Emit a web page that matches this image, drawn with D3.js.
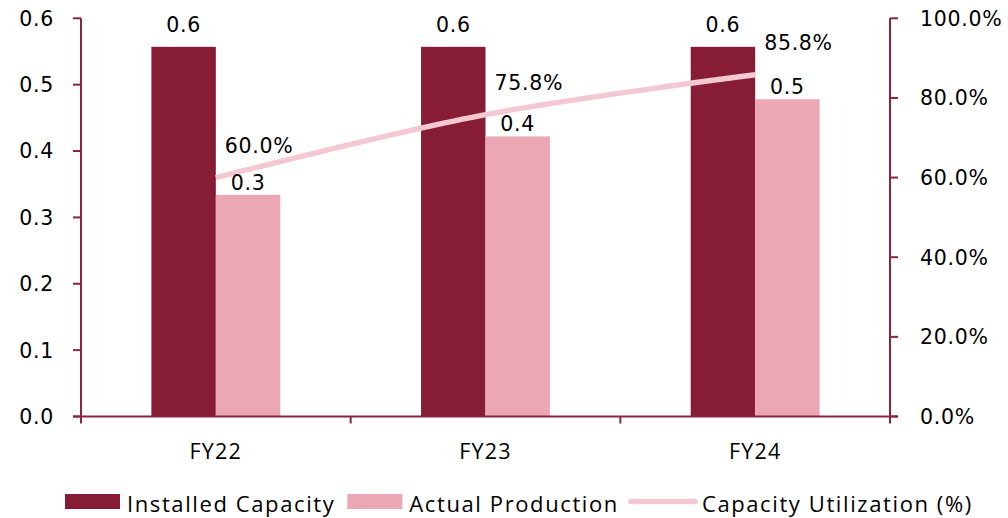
<!DOCTYPE html>
<html>
<head>
<meta charset="utf-8">
<script src="https://cdn.jsdelivr.net/npm/d3@7"></script>
<style>
  html, body { margin: 0; padding: 0; background: #fff; }
  svg { display: block; }
  .num { font-family: "DejaVu Sans", sans-serif; font-size: 20.5px; fill: #000; letter-spacing: 0.7px; }
  .cat { font-family: "Open Sans", sans-serif; font-size: 21.5px; fill: #000; letter-spacing: 1.2px; }
  .leg { font-family: "Open Sans", sans-serif; font-size: 22px; fill: #000; letter-spacing: 1.6px; }
</style>
</head>
<body>
<svg id="chart" width="1008" height="518"></svg>
<script>
// Capacity vs. production by fiscal year
const categories = ["FY22", "FY23", "FY24"];
const installedCapacity = [0.557, 0.557, 0.557];
const actualProduction = [0.334, 0.422, 0.478];
const utilization = [60.0, 75.8, 85.8];
const leftTicks = [0, 0.1, 0.2, 0.3, 0.4, 0.5, 0.6];
const rightTicks = [0, 20, 40, 60, 80, 100];
const seriesNames = ["Installed Capacity", "Actual Production", "Capacity Utilization (%)"];

const colors = { installed: "#861d35", actual: "#eba7b4", line: "#f4c8d1", axis: "#8a2541" };

const svg = d3.select("#chart");
const plot = { left: 81, right: 890, top: 18.3, bottom: 416.5 };

const x0 = d3.scaleBand().domain(categories).range([plot.left, plot.right]).padding(0);
const yL = d3.scaleLinear().domain([0, 0.6]).range([plot.bottom, plot.top]);
const yR = d3.scaleLinear().domain([0, 100]).range([plot.bottom, plot.top]);

const half = x0.bandwidth() * 0.239;
const x1 = d3.scaleBand().domain(["installed", "actual"]).range([-half, half]).padding(0);
const cx = c => x0(c) + x0.bandwidth() / 2;

const fmt1 = d3.format(".1f");

// bars
const rows = categories.map((c, i) => ({ c, installed: installedCapacity[i], actual: actualProduction[i], util: utilization[i] }));

["installed", "actual"].forEach(key => {
  svg.append("g").selectAll("rect").data(rows).join("rect")
    .attr("x", d => cx(d.c) + x1(key))
    .attr("width", x1.bandwidth())
    .attr("y", d => yL(d[key]))
    .attr("height", d => yL(0) - yL(d[key]))
    .attr("fill", colors[key]);
});

// axes
const axisG = svg.append("g").attr("stroke", colors.axis).attr("stroke-width", 2).attr("fill", "none");
axisG.append("line").attr("x1", plot.left).attr("x2", plot.left).attr("y1", plot.top).attr("y2", plot.bottom + 7);
axisG.append("line").attr("x1", plot.right).attr("x2", plot.right).attr("y1", plot.top).attr("y2", plot.bottom + 7);
axisG.append("line").attr("x1", plot.left - 8).attr("x2", plot.right + 8).attr("y1", plot.bottom).attr("y2", plot.bottom);
leftTicks.forEach(t => {
  axisG.append("line").attr("x1", plot.left - 8).attr("x2", plot.left).attr("y1", yL(t)).attr("y2", yL(t));
});
rightTicks.forEach(t => {
  axisG.append("line").attr("x1", plot.right).attr("x2", plot.right + 8).attr("y1", yR(t)).attr("y2", yR(t));
});
categories.slice(1).forEach(c => {
  axisG.append("line").attr("x1", x0(c)).attr("x2", x0(c)).attr("y1", plot.bottom).attr("y2", plot.bottom + 7);
});

// tick labels
svg.append("g").selectAll("text").data(leftTicks).join("text")
  .attr("class", "num").attr("text-anchor", "end")
  .attr("x", 54).attr("y", d => yL(d)).attr("dy", "0.36em")
  .text(d => fmt1(d));
svg.append("g").selectAll("text").data(rightTicks).join("text")
  .attr("class", "num").attr("text-anchor", "start")
  .attr("x", 920).attr("y", d => yR(d)).attr("dy", "0.36em")
  .text(d => fmt1(d) + "%");
svg.append("g").selectAll("text").data(categories).join("text")
  .attr("class", "cat").attr("text-anchor", "middle")
  .attr("x", d => cx(d)).attr("y", 459)
  .text(d => d);

// utilization line
const line = d3.line().x(d => cx(d.c)).y(d => yR(d.util)).curve(d3.curveCatmullRom.alpha(0.5));
svg.append("path").datum(rows).attr("d", line)
  .attr("fill", "none").attr("stroke", colors.line).attr("stroke-width", 5.5).attr("stroke-linecap", "butt");

// value labels
svg.append("g").selectAll("text").data(rows).join("text")
  .attr("class", "num").attr("text-anchor", "middle")
  .attr("x", d => cx(d.c) + x1("installed") + x1.bandwidth() / 2)
  .attr("y", d => yL(d.installed) - 15)
  .text(d => fmt1(d.installed));
svg.append("g").selectAll("text").data(rows).join("text")
  .attr("class", "num").attr("text-anchor", "middle")
  .attr("x", d => cx(d.c) + x1("actual") + x1.bandwidth() / 2)
  .attr("y", d => yL(d.actual) - 5)
  .text(d => fmt1(d.actual));
svg.append("g").selectAll("text").data(rows).join("text")
  .attr("class", "num").attr("text-anchor", "start")
  .attr("x", d => cx(d.c) + 9)
  .attr("y", d => yR(d.util) - 25)
  .text(d => fmt1(d.util) + "%");

// legend
const leg = svg.append("g");
let lx = 65;
const ly = 501.5;
seriesNames.forEach((name, i) => {
  if (i < 2) {
    leg.append("rect").attr("x", lx).attr("y", ly - 7.5).attr("width", 55).attr("height", 15)
      .attr("fill", i === 0 ? colors.installed : colors.actual);
  } else {
    leg.append("line").attr("x1", lx).attr("x2", lx + 64).attr("y1", ly).attr("y2", ly)
      .attr("stroke", colors.line).attr("stroke-width", 5.5).attr("stroke-linecap", "round");
  }
  lx += (i < 2 ? 55 : 64) + 7;
  const t = leg.append("text").attr("class", "leg").attr("x", lx).attr("y", ly + 10).text(name);
  lx += t.node().getComputedTextLength() + 12;
});
</script>
</body>
</html>
